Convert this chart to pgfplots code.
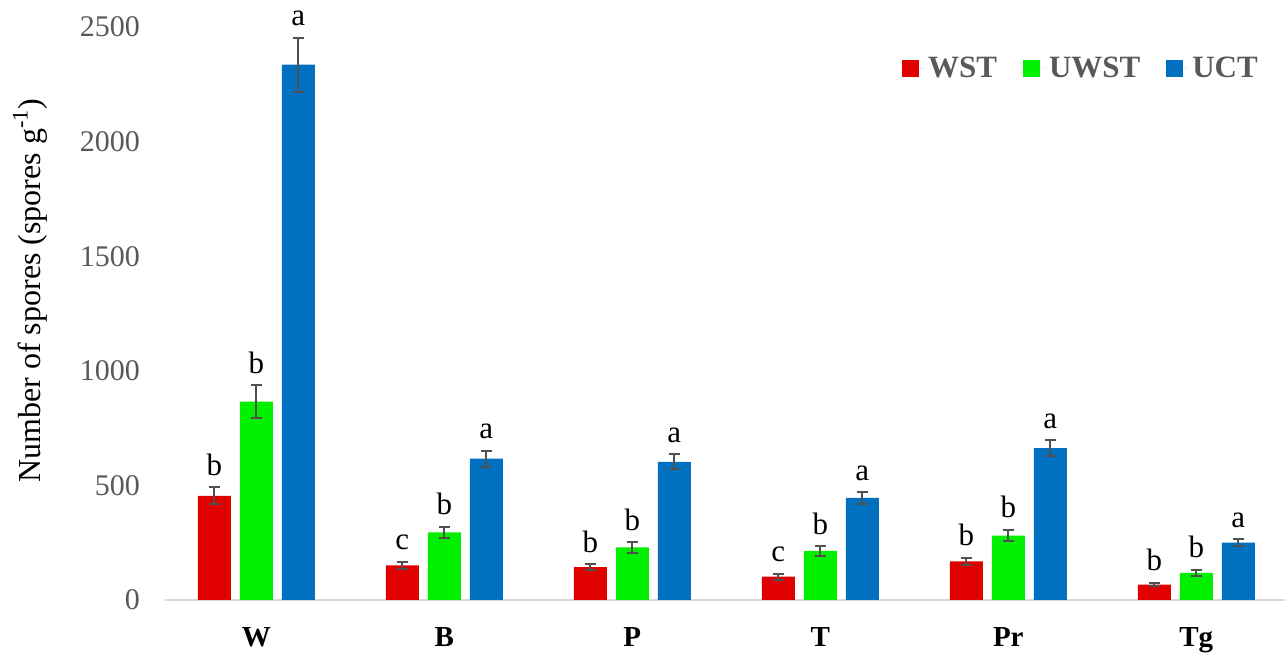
\documentclass[border=0pt]{standalone}
\usepackage{pgfplots}
\pgfplotsset{compat=1.18}
\usepackage{pgfplotstable}
\usepackage{fontspec}
\setmainfont{Liberation Serif}

\definecolor{cWST}{HTML}{E00000}
\definecolor{cUWST}{HTML}{00F000}
\definecolor{cUCT}{HTML}{0070C0}
\definecolor{txtgray}{HTML}{595959}
\definecolor{errgray}{HTML}{505050}
\definecolor{basegray}{HTML}{D9D9D9}

% x: group index, y: mean, err: standard error, lab: significance letter
\pgfplotstableread{
x y err lab
0 454 37 b
1 151 15 c
2 143 12 b
3 102 13 c
4 169 15 b
5 67 8 b
}\tabWST
\pgfplotstableread{
x y err lab
0 865 72 b
1 295 25 b
2 230 23 b
3 214 20 b
4 281 25 b
5 118 14 b
}\tabUWST
\pgfplotstableread{
x y err lab
0 2336 118 a
1 617 35 a
2 603 33 a
3 445 25 a
4 663 35 a
5 250 15 a
}\tabUCT

\pgfplotsset{
  sq legend/.style={legend image code/.code={%
    \fill[##1] (0pt,-4.25pt) rectangle (8.5pt,4.25pt);
    \path (8.5pt,0pt) -- (11pt,0pt);}},
  bar common/.style={
    draw=none,
    error bars/.cd, y dir=both, y explicit,
    error bar style={line width=1pt, color=errgray},
    error mark options={rotate=90, mark size=2.75pt, line width=1pt, color=errgray},
    /pgfplots/.cd,
    nodes near coords, point meta=explicit symbolic,
    visualization depends on={\thisrow{err}\as\eb},
    every node near coord/.append style={anchor=base, inner sep=0pt,
      yshift={\eb*0.1146pt+6pt}, text=black,
      font=\fontsize{15.5}{16}\selectfont},
  },
}

\begin{document}
\begin{tikzpicture}
\begin{axis}[
  ybar, bar width=0.1755,
  scale only axis,
  width=560pt, height=286.5pt,
  xmin=-0.486, xmax=5.472,
  ymin=0, ymax=2500,
  clip=false,
  axis x line*=bottom, axis y line*=left,
  x axis line style={draw=basegray, line width=1pt},
  y axis line style={draw=none},
  xtick={0,1,2,3,4,5},
  xticklabels={W,B,P,T,Pr,Tg},
  ytick={0,500,...,2500},
  major tick length=0pt,
  /pgf/number format/assume math mode=true,
  /pgf/number format/1000 sep={},
  yticklabel style={text=txtgray, font=\fontsize{15}{16}\selectfont, xshift=-9pt},
  xticklabel style={text=black, font=\bfseries\fontsize{14.5}{16}\selectfont, yshift=-10pt},
  ylabel={Number of spores (spores g\textsuperscript{-1})},
  every axis y label/.style={at={(axis description cs:-0.1205,0.54)}, rotate=90, anchor=center,
    font=\fontsize{16}{18}\selectfont},
  legend style={at={(0.985,0.928)}, anchor=east, draw=none, fill=none,
    legend columns=3, text=txtgray,
    font=\bfseries\fontsize{15.5}{16}\selectfont,
    /tikz/every even column/.append style={column sep=11pt}},
  legend cell align=left,
]
\addplot[bar common, bar shift=-0.2234, fill=cWST, sq legend]
  table[x=x, y=y, y error=err, meta=lab]{\tabWST};
\addlegendentry{WST}
\addplot[bar common, bar shift=0, fill=cUWST, sq legend]
  table[x=x, y=y, y error=err, meta=lab]{\tabUWST};
\addlegendentry{UWST}
\addplot[bar common, bar shift=0.2234, fill=cUCT, sq legend]
  table[x=x, y=y, y error=err, meta=lab]{\tabUCT};
\addlegendentry{UCT}
\end{axis}
\pgfresetboundingbox
\path (current axis.south west) ++(-82.5pt,-28.5pt) rectangle ++(643pt,328.5pt);
\end{tikzpicture}
\end{document}
